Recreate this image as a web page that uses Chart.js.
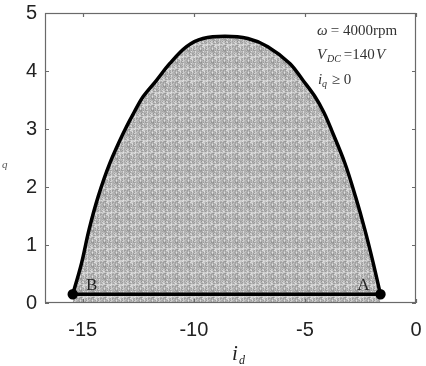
<!DOCTYPE html>
<html><head><meta charset="utf-8">
<script src="https://cdn.jsdelivr.net/npm/chart.js@4"></script>
<style>html,body{margin:0;padding:0;background:#fff;}#wrap{width:426px;height:366px;}</style>
</head><body><div id="wrap"><canvas id="c" width="426" height="366"></canvas></div>
<script>
// Data
const idCurve = [-15.45, -15.06, -14.72, -14.31, -13.78, -13.11, -12.7, -12.28, -11.68, -11.08, -10.33, -9.59, -8.6, -7.57, -6.67, -5.68, -5.09, -4.55, -4.14, -3.80, -3.20, -2.72, -2.30, -1.92, -1.6];
const iqCurve = [0.15, 0.68, 1.26, 1.83, 2.41, 2.98, 3.28, 3.56, 3.84, 4.13, 4.42, 4.56, 4.60, 4.56, 4.42, 4.13, 3.84, 3.56, 3.28, 2.98, 2.41, 1.83, 1.26, 0.68, 0.15];
const idBase = [-15.45, -1.6];
const iqBase = [0.15, 0.15];
const xTicks = [-15, -10, -5, 0];
const yTicks = [0, 1, 2, 3, 4, 5];
const pointLabels = ['B', 'A'];

// texture for the shaded region (deterministic)
function makePattern() {
  const n = 12;
  const c = document.createElement('canvas');
  c.width = n; c.height = n;
  const g = c.getContext('2d');
  g.fillStyle = '#b2b2b2'; g.fillRect(0, 0, n, n);
  const shades = ['#d2d2d2', '#9c9c9c', '#c4c4c4', '#a4a4a4', '#e0e0e0'];
  for (let y = 0; y < n; y++) for (let x = 0; x < n; x++) {
    const h = (x * 5 + y * 11 + ((x * y) % 7) * 3) % 9;
    if (h < 5) { g.fillStyle = shades[h]; g.fillRect(x, y, 1, 1); }
  }
  g.fillStyle = 'rgba(230,230,230,0.55)';
  g.fillRect(3, 0, 1, n); g.fillRect(0, 8, n, 1);
  g.fillStyle = 'rgba(120,120,120,0.35)';
  g.fillRect(9, 0, 1, n); g.fillRect(0, 2, n, 1);
  return g.createPattern(c, 'repeat');
}

const curvePts = idCurve.map((x, i) => ({x, y: iqCurve[i]}));
const basePts = idBase.map((x, i) => ({x, y: iqBase[i]}));

const L = 45, R = 416, T = 13, B = 303;

function noPad(s) { s.paddingTop = 0; s.paddingBottom = 0; s.paddingLeft = 0; s.paddingRight = 0; }

const deco = {
  id: 'deco',
  afterDraw(chart) {
    const ctx = chart.ctx, xs = chart.scales.x, ys = chart.scales.y;
    const a = chart.chartArea;
    ctx.save();
    // box
    ctx.strokeStyle = '#6a6a6a'; ctx.lineWidth = 1.2;
    ctx.strokeRect(a.left + 0.5, a.top + 0.5, a.right - a.left - 1, a.bottom - a.top - 1);
    // inward ticks
    ctx.beginPath();
    xTicks.forEach(v => { const p = Math.round(xs.getPixelForValue(v)) + 0.5;
      ctx.moveTo(p, a.bottom); ctx.lineTo(p, a.bottom - 4);
      ctx.moveTo(p, a.top); ctx.lineTo(p, a.top + 4); });
    yTicks.forEach(v => { const p = Math.round(ys.getPixelForValue(v)) + 0.5;
      ctx.moveTo(a.left, p); ctx.lineTo(a.left + 4, p);
      ctx.moveTo(a.right, p); ctx.lineTo(a.right - 4, p); });
    ctx.stroke();
    // point labels
    ctx.fillStyle = '#222';
    ctx.font = '17px "Liberation Serif", serif';
    ctx.textBaseline = 'alphabetic'; ctx.textAlign = 'center';
    ctx.fillText(pointLabels[0], xs.getPixelForValue(idBase[0]) + 19, ys.getPixelForValue(iqBase[0]) - 4);
    ctx.fillText(pointLabels[1], xs.getPixelForValue(idBase[1]) - 17, ys.getPixelForValue(iqBase[1]) - 4);
    // annotation
    ctx.textAlign = 'left';
    ctx.fillStyle = '#333';
    ctx.font = 'italic 15px "Liberation Serif", serif';
    ctx.fillText('ω', 317, 35);
    ctx.font = '15px "Liberation Serif", serif';
    ctx.fillText(' = 4000rpm', 327, 35);
    ctx.font = 'italic 15px "Liberation Serif", serif';
    ctx.fillText('V', 317, 59);
    ctx.font = 'italic 10px "Liberation Serif", serif';
    ctx.fillText('DC', 327, 62);
    ctx.font = '15px "Liberation Serif", serif';
    ctx.fillText(' =140', 340, 59);
    ctx.font = 'italic 15px "Liberation Serif", serif';
    ctx.fillText('V', 376, 59);
    ctx.fillText('i', 318, 84);
    ctx.font = 'italic 10px "Liberation Serif", serif';
    ctx.fillText('q', 322, 87);
    ctx.font = '15px "Liberation Serif", serif';
    ctx.fillText(' ≥ 0', 328, 84);
    // x title
    ctx.fillStyle = '#222';
    ctx.font = 'italic 21px "Liberation Serif", serif';
    ctx.fillText('i', 232, 360);
    ctx.font = 'italic 12px "Liberation Serif", serif';
    ctx.fillText('d', 239, 364);
    // y title (mostly cut at the left edge)
    ctx.font = 'italic 11px "Liberation Serif", serif';
    ctx.fillStyle = '#555';
    ctx.fillText('q', 2, 168);
    ctx.restore();
  }
};

new Chart(document.getElementById('c'), {
  type: 'line',
  data: {
    datasets: [
      { data: curvePts, order: 2, borderColor: '#000', borderWidth: 3.5, pointRadius: 0,
        tension: 0.35, fill: 'origin', backgroundColor: makePattern() },
      { data: basePts, order: 1, borderColor: '#000', borderWidth: 3.5, pointRadius: 3.5,
        pointBackgroundColor: '#000', pointBorderColor: '#000', fill: false }
    ]
  },
  options: {
    responsive: false, animation: false,
    layout: { autoPadding: false, padding: { top: T, right: 426 - R, left: 0, bottom: 0 } },
    plugins: { legend: { display: false }, tooltip: { enabled: false },
      filler: { drawTime: 'beforeDatasetsDraw' } },
    scales: {
      x: { type: 'linear', min: -16.7, max: 0,
        afterBuildTicks: s => { s.ticks = xTicks.map(v => ({value: v})); },
        afterFit: s => { s.height = 366 - B; noPad(s); },
        grid: { display: false, drawTicks: false }, border: { display: false },
        ticks: { color: '#222', padding: 15, maxRotation: 0, font: { family: '"Liberation Sans", Arial, sans-serif', size: 20 } } },
      y: { type: 'linear', min: 0, max: 5,
        afterBuildTicks: s => { s.ticks = yTicks.map(v => ({value: v})); },
        afterFit: s => { s.width = L; noPad(s); },
        grid: { display: false, drawTicks: false }, border: { display: false },
        ticks: { color: '#222', padding: 8, font: { family: '"Liberation Sans", Arial, sans-serif', size: 20 } } }
    }
  },
  plugins: [deco]
});
</script></body></html>
